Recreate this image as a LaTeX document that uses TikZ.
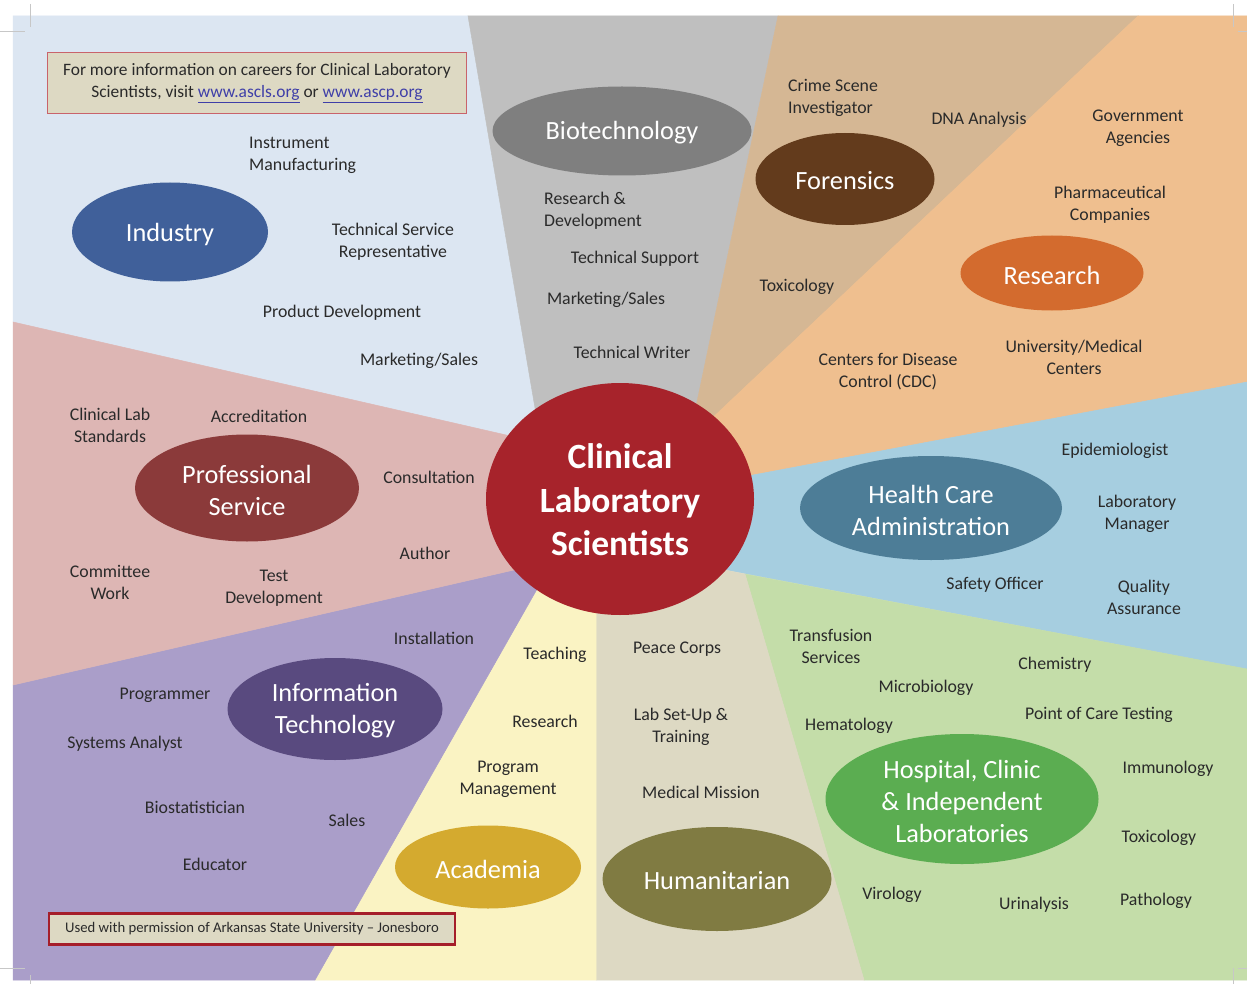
\documentclass[tikz,border=0pt]{standalone}
\usepackage{fontspec}
\setmainfont{Carlito}
\usetikzlibrary{shapes.geometric}

\definecolor{labeltext}{HTML}{2A2A2A}
\definecolor{linkblue}{HTML}{3F3FA8}
\definecolor{boxfill}{HTML}{DDD9C3}
\definecolor{boxpink}{HTML}{C9636B}
\definecolor{boxred}{HTML}{A51E2A}
\definecolor{indbg}{HTML}{DCE6F2}
\definecolor{biobg}{HTML}{BFBFBF}
\definecolor{forbg}{HTML}{D5B794}
\definecolor{resbg}{HTML}{EFBF8F}
\definecolor{hcabg}{HTML}{A6CEE0}
\definecolor{hosbg}{HTML}{C4DDA9}
\definecolor{humbg}{HTML}{DDD9C3}
\definecolor{acabg}{HTML}{FAF3C3}
\definecolor{itbg}{HTML}{AA9EC9}
\definecolor{probg}{HTML}{DDB6B4}
\definecolor{inddk}{HTML}{40609A}
\definecolor{biodk}{HTML}{7F7F7F}
\definecolor{fordk}{HTML}{633B1C}
\definecolor{resdk}{HTML}{D36B2E}
\definecolor{hcadk}{HTML}{4D7D97}
\definecolor{hosdk}{HTML}{5BAD51}
\definecolor{humdk}{HTML}{807B42}
\definecolor{acadk}{HTML}{D4AA2F}
\definecolor{itdk}{HTML}{594A7F}
\definecolor{prodk}{HTML}{8B3A3A}
\definecolor{clsred}{HTML}{A7232B}

\begin{document}
\begin{tikzpicture}[x=1pt, y=-1pt,
    wedge/.style={fill=#1, draw=#1, line width=0.5pt},
    hub/.style={ellipse, inner sep=0pt, fill=#1},
    title/.style={text=white, align=center, inner sep=0pt, yshift=-2pt, font=\fontsize{26.3}{32}\selectfont},
    lbl/.style={text=labeltext, align=center, inner sep=0pt, yshift=-2pt, font=\fontsize{17.8}{22}\selectfont},
    note/.style={text=labeltext, align=center, fill=boxfill},
    crop/.style={draw=black!22, line width=0.6pt}]
  \useasboundingbox (0,0) rectangle (1247,984);
  \fill[white] (0,0) rectangle (1247,984);

  % wedges round the centre
  \path[wedge=indbg] (541,443) -- (468,16) -- (13,16) -- (13,322) -- cycle;
  \path[wedge=biobg] (541,443) -- (468,16) -- (778,16) -- (689,440) -- cycle;
  \path[wedge=forbg] (689,440) -- (778,16) -- (1138,16) -- cycle;
  \path[wedge=resbg] (689,440) -- (1138,16) -- (1247,16) -- (1247,382) -- (700,485) -- cycle;
  \path[wedge=hcabg] (700,485) -- (1247,382) -- (1247,669) -- (700,565) -- cycle;
  \path[wedge=hosbg] (745,574) -- (1247,669) -- (1247,980) -- (864,980) -- cycle;
  \path[wedge=humbg] (700,565) -- (745,574) -- (864,980) -- (596,980) -- (596,560) -- cycle;
  \path[wedge=acabg] (596,560) -- (596,980) -- (315,980) -- (553,561) -- cycle;
  \path[wedge=itbg] (553,561) -- (315,980) -- (13,980) -- (13,685) -- cycle;
  \path[wedge=probg] (553,561) -- (13,685) -- (13,322) -- (541,443) -- cycle;

  \node[hub=clsred, minimum width=268, minimum height=232,
    label={[text=white, align=center, inner sep=0pt, yshift=-1pt, font=\fontsize{35.5}{43.5}\selectfont\bfseries]center:{Clinical\\Laboratory\\Scientists}}] (cls) at (620,499) {};

  \node[hub=inddk, minimum width=196, minimum height=99, label={[title]center:Industry}] (industry) at (170,232) {};
  \node[hub=biodk, minimum width=259, minimum height=89, label={[title]center:Biotechnology}] (biotech) at (622,131) {};
  \node[hub=fordk, minimum width=179, minimum height=92, label={[title]center:Forensics}] (forensics) at (845,179) {};
  \node[hub=resdk, minimum width=183, minimum height=75, label={[title]center:Research}] (research) at (1052,273) {};
  \node[hub=hcadk, minimum width=262, minimum height=104, label={[title]center:{Health Care\\Administration}}] (healthcare) at (931,508) {};
  \node[hub=hosdk, minimum width=273, minimum height=130, label={[title]center:{Hospital, Clinic\\\& Independent\\Laboratories}}] (hospital) at (962,799) {};
  \node[hub=humdk, minimum width=229, minimum height=104, label={[title]center:Humanitarian}] (humanitarian) at (717,879) {};
  \node[hub=acadk, minimum width=186, minimum height=83, label={[title]center:Academia}] (academia) at (488,867) {};
  \node[hub=itdk, minimum width=215, minimum height=102, label={[title]center:{Information\\Technology}}] (infotech) at (335,709) {};
  \node[hub=prodk, minimum width=224, minimum height=107, label={[title]center:{Professional\\Service}}] (proservice) at (247,488) {};

  % industry
  \node[lbl, align=left, anchor=west] (instrument) at (249,153) {Instrument\\Manufacturing};
  \node[lbl] (techservice) at (393,240) {Technical Service\\Representative};
  \node[lbl] (productdev) at (342,311) {Product Development};
  \node[lbl] (indsales) at (419,359) {Marketing/Sales};
  % biotechnology
  \node[lbl, align=left, anchor=west] (biord) at (544,209) {Research \&\\Development};
  \node[lbl] (techsupport) at (635,257) {Technical Support};
  \node[lbl] (biosales) at (606,298) {Marketing/Sales};
  \node[lbl] (techwriter) at (632,350) {Technical Writer};
  % forensics
  \node[lbl, align=left, anchor=west] (crimescene) at (788,96) {Crime Scene\\Investigator};
  \node[lbl] (dna) at (979,118) {DNA Analysis};
  \node[lbl] (fortox) at (797,285) {Toxicology};
  % research
  \node[lbl] (government) at (1138,126) {Government\\Agencies};
  \node[lbl] (pharma) at (1110,203) {Pharmaceutical\\Companies};
  \node[lbl] (university) at (1074,355) {University/Medical\\Centers};
  \node[lbl] (cdc) at (888,370) {Centers for Disease\\Control (CDC)};
  % health care administration
  \node[lbl] (epidemio) at (1115,449) {Epidemiologist};
  \node[lbl] (labmanager) at (1137,512) {Laboratory\\Manager};
  \node[lbl] (safety) at (995,583) {Safety Officer};
  \node[lbl] (quality) at (1144,595) {Quality\\Assurance};
  % hospital
  \node[lbl] (transfusion) at (831,644) {Transfusion\\Services};
  \node[lbl] (chemistry) at (1055,663) {Chemistry};
  \node[lbl] (microbio) at (926,686) {Microbiology};
  \node[lbl] (poctest) at (1099,713) {Point of Care Testing};
  \node[lbl] (hematology) at (849,724) {Hematology};
  \node[lbl] (immunology) at (1168,767) {Immunology};
  \node[lbl] (hostox) at (1159,836) {Toxicology};
  \node[lbl] (virology) at (892,893) {Virology};
  \node[lbl] (urinalysis) at (1034,903) {Urinalysis};
  \node[lbl] (pathology) at (1156,899) {Pathology};
  % humanitarian
  \node[lbl] (peacecorps) at (677,647) {Peace Corps};
  \node[lbl] (labsetup) at (681,725) {Lab Set-Up \&\\Training};
  \node[lbl] (medmission) at (701,790) {Medical Mission};
  % academia
  \node[lbl] (teaching) at (555,653) {Teaching};
  \node[lbl] (acaresearch) at (545,719) {Research};
  \node[lbl] (progmgmt) at (508,777) {Program\\Management};
  % information technology
  \node[lbl] (installation) at (434,636) {Installation};
  \node[lbl] (programmer) at (165,693) {Programmer};
  \node[lbl] (sysanalyst) at (125,742) {Systems Analyst};
  \node[lbl] (biostat) at (195,805) {Biostatistician};
  \node[lbl] (itsales) at (347,818) {Sales};
  \node[lbl] (educator) at (215,862) {Educator};
  % professional service
  \node[lbl] (labstandards) at (110,423) {Clinical Lab\\Standards};
  \node[lbl] (accreditation) at (259,414) {Accreditation};
  \node[lbl] (consultation) at (429,475) {Consultation};
  \node[lbl] (author) at (425,551) {Author};
  \node[lbl] (committee) at (110,580) {Committee\\Work};
  \node[lbl] (testdev) at (274,586) {Test\\Development};

  \node[note, draw=boxpink, line width=1.5pt, minimum width=419, minimum height=61,
    font=\fontsize{17.4}{22}\selectfont] (moreinfo) at (257,83)
    {For more information on careers for Clinical Laboratory\\Scientists, visit {\color{linkblue}\underline{www.ascls.org}} or {\color{linkblue}\underline{www.ascp.org}}};
  \node[note, draw=boxred, line width=2.5pt, minimum width=406, minimum height=31,
    font=\fontsize{14.7}{18}\selectfont] (permission) at (252,929)
    {Used with permission of Arkansas State University -- Jonesboro};

  \draw[crop] (30,4) -- (30,27) (0,31) -- (25,31);
  \draw[crop] (1233,4) -- (1233,27) (1238,31) -- (1247,31);
  \draw[crop] (0,968) -- (25,968) (30,975) -- (30,984);
  \draw[crop] (1233,968) -- (1233,984) (1238,968) -- (1247,968);
\end{tikzpicture}
\end{document}
